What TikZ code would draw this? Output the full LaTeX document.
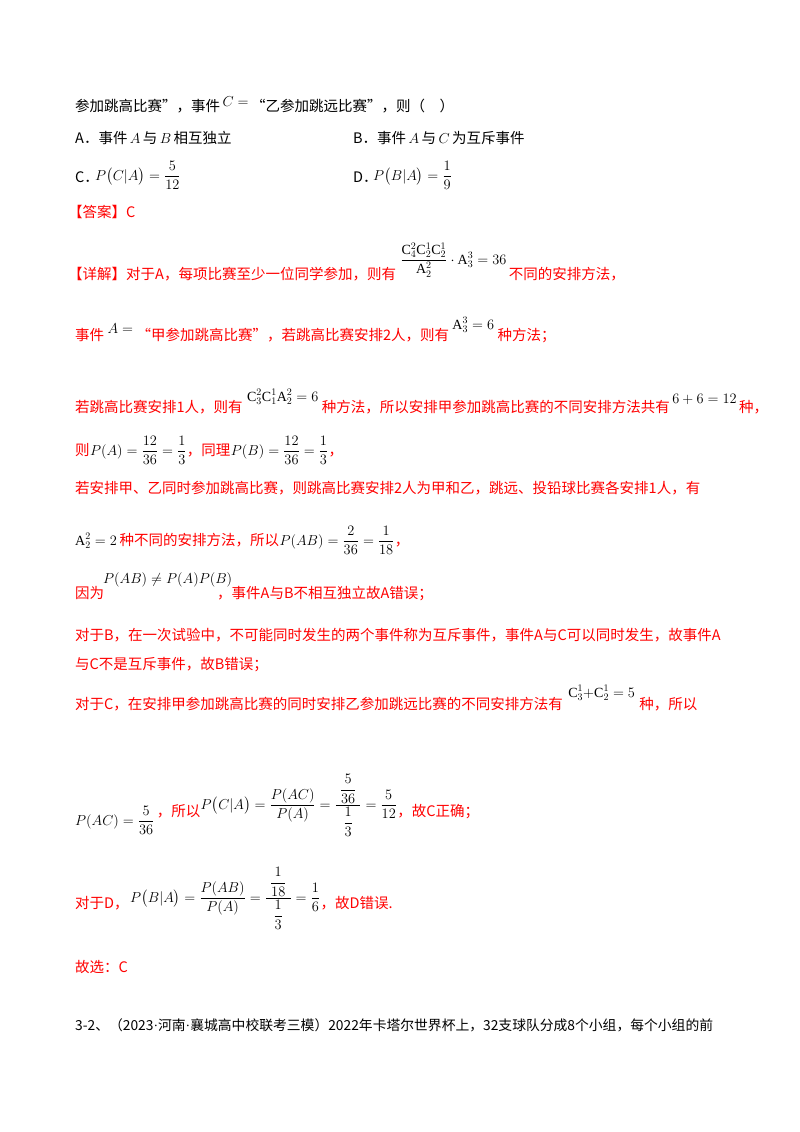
\documentclass[tikz,border=0pt]{standalone}
\usepackage{amsmath}
\usepackage{fontspec}
\setmainfont{Liberation Serif}
\newfontfamily\cjk{Noto Sans CJK SC}
\begin{document}
\begin{tikzpicture}[x=1pt,y=-1pt,
  t/.style={anchor=base west,inner sep=0pt,font=\cjk\fontsize{14.5}{17}\selectfont},
  r/.style={t,text=red},
  m/.style={anchor=base west,inner sep=0pt,font=\fontsize{14}{17}\selectfont}]
\useasboundingbox[fill=white] (0,0) rectangle (800,1132);
% question tail
\node[t] (q1) at (75,111) {参加跳高比赛”，事件};
\node[m] (q2) at ([xshift=2pt,yshift=5pt]q1.base east) {$C=$};
\node[t] (q3) at ([xshift=2pt]q2.east|-q1.base) {“乙参加跳远比赛”，则（\quad）};
\node[t] (oa) at (75,143) {A．事件\,$A$\,与\,$B$\,相互独立};
\node[t] (ob) at (353,143) {B．事件\,$A$\,与\,$C$\,为互斥事件};
\node[t] (oc) at (75,182) {C．};
\node[m] (oc2) at (95,180) {$P\big(C|A\big)=\dfrac{5}{12}$};
\node[t] (od) at (353,182) {D．};
\node[m] (od2) at (373,180) {$P\big(B|A\big)=\dfrac{1}{9}$};
\node[r] (ans) at (68,217) {【答案】C};
% detail
\node[r] (d1) at (68,279) {【详解】对于A，每项比赛至少一位同学参加，则有};
\node[m] (d2) at ([xshift=4pt,yshift=15pt]d1.base east) {$\dfrac{\mathrm{C}_4^2\mathrm{C}_2^1\mathrm{C}_2^1}{\mathrm{A}_2^2}\cdot\mathrm{A}_3^3=36$};
\node[r] (d3) at ([xshift=2pt]d2.east|-d1.base) {不同的安排方法，};
\node[r] (e1) at (75,340) {事件};
\node[m] (e2) at ([xshift=3pt,yshift=7pt]e1.base east) {$A=$};
\node[r] (e3) at ([xshift=3pt]e2.east|-e1.base) {“甲参加跳高比赛”，若跳高比赛安排2人，则有};
\node[m] (e5) at ([xshift=3pt,yshift=11pt]e3.base east) {$\mathrm{A}_3^3=6$};
\node[r] (e6) at ([xshift=3pt]e5.east|-e1.base) {种方法；};
\node[r] (f1) at (75,412) {若跳高比赛安排1人，则有};
\node[m] (f2) at ([xshift=4pt,yshift=11pt]f1.base east) {$\mathrm{C}_3^2\mathrm{C}_1^1\mathrm{A}_2^2=6$};
\node[r] (f3) at ([xshift=3pt]f2.east|-f1.base) {种方法，所以安排甲参加跳高比赛的不同安排方法共有};
\node[m] (f4) at ([xshift=2pt,yshift=9pt]f3.base east) {$6+6=12$};
\node[r] (f5) at ([xshift=2pt]f4.east|-f1.base) {种，};
\node[r] (g1) at (75,455) {则};
\node[m] (g2) at (g1.base east) {$P(A)=\dfrac{12}{36}=\dfrac13$};
\node[r] (g3) at (g2.base east) {，同理};
\node[m] (g4) at (g3.base east) {$P(B)=\dfrac{12}{36}=\dfrac13$};
\node[r] (g5) at (g4.base east) {，};
\node[r] (h1) at (75,493) {若安排甲、乙同时参加跳高比赛，则跳高比赛安排2人为甲和乙，跳远、投铅球比赛各安排1人，有};
\node[m] (i1) at (75,545) {$\mathrm{A}_2^2=2$};
\node[r] (i2) at (i1.base east) {\,种不同的安排方法，所以};
\node[m] (i3) at (i2.base east) {$P(AB)=\dfrac{2}{36}=\dfrac{1}{18}$};
\node[r] (i4) at (i3.base east) {，};
\node[r] (j1) at (75,598) {因为};
\node[m] (j2) at (103,583) {$P(AB)\neq P(A)P(B)$};
\node[r] (j3) at (217,598) {，事件A与B不相互独立故A错误；};
\node[r] (k1) at (75,640) {对于B，在一次试验中，不可能同时发生的两个事件称为互斥事件，事件A与C可以同时发生，故事件A};
\node[r] (k2) at (75,669) {与C不是互斥事件，故B错误；};
\node[r] (l1) at (75,709) {对于C，在安排甲参加跳高比赛的同时安排乙参加跳远比赛的不同安排方法有};
\node[m] (l2) at ([xshift=5pt,yshift=12pt]l1.base east) {$\mathrm{C}_3^1{+}\mathrm{C}_2^1=5$};
\node[r] (l3) at ([xshift=4pt]l2.east|-l1.base) {种，所以};
\node[m] (m1) at (75,825) {$P(AC)=\dfrac{5}{36}$};
\node[r] (m2) at ([xshift=2pt]m1.east|-0,816) {，所以};
\node[m] (m3) at (m2.base east|-0,809) {$P\big(C|A\big)=\dfrac{P(AC)}{P(A)}=\dfrac{\;\dfrac{5}{36}\;}{\dfrac13}=\dfrac{5}{12}$};
\node[r] (m4) at (m3.base east|-0,816) {，故C正确；};
\node[r] (n1) at (75,908) {对于D，};
\node[m] (n2) at (130,902) {$P\big(B|A\big)=\dfrac{P(AB)}{P(A)}=\dfrac{\;\dfrac{1}{18}\;}{\dfrac13}=\dfrac{1}{6}$};
\node[r] (n3) at (n2.base east|-n1.base) {，故D错误.};
\node[r] (o1) at (75,972) {故选：C};
\node[t,font=\cjk\fontsize{13.8}{17}\selectfont] (p1) at (75,1030) {3-2、（2023{\rmfamily·}河南{\rmfamily·}襄城高中校联考三模）2022年卡塔尔世界杯上，32支球队分成8个小组，每个小组的前};
\end{tikzpicture}
\end{document}
